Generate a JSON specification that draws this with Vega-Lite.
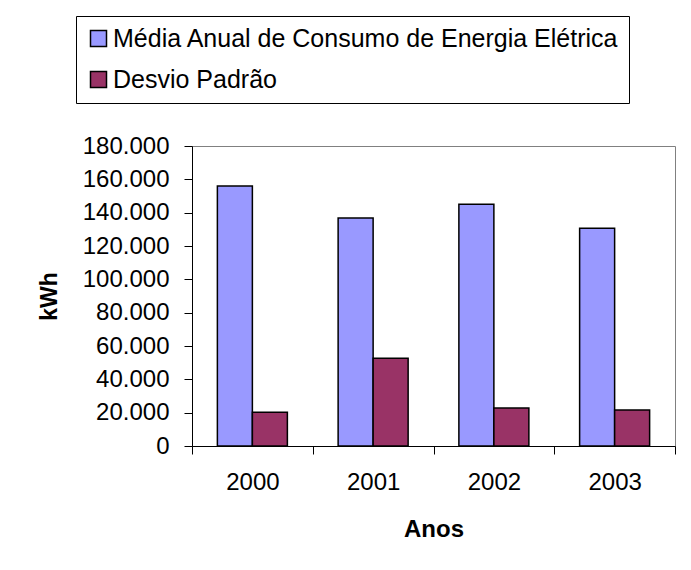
{
  "$schema": "https://vega.github.io/schema/vega-lite/v6.json",
  "width": 483,
  "height": 300,
  "autosize": "none",
  "padding": {"left": 192, "top": 146, "right": 16, "bottom": 124},
  "background": "white",
  "config": {
    "locale": {"number": {"decimal": ",", "thousands": ".", "grouping": [3], "currency": ["R$", ""]}},
    "view": {"stroke": "#808080", "strokeWidth": 1},
    "font": "Liberation Sans"
  },
  "data": {
    "values": [
      {"ano": "2000", "serie": "Média Anual de Consumo de Energia Elétrica", "valor": 156000},
      {"ano": "2000", "serie": "Desvio Padrão", "valor": 20200},
      {"ano": "2001", "serie": "Média Anual de Consumo de Energia Elétrica", "valor": 136800},
      {"ano": "2001", "serie": "Desvio Padrão", "valor": 52600},
      {"ano": "2002", "serie": "Média Anual de Consumo de Energia Elétrica", "valor": 145000},
      {"ano": "2002", "serie": "Desvio Padrão", "valor": 22800},
      {"ano": "2003", "serie": "Média Anual de Consumo de Energia Elétrica", "valor": 130600},
      {"ano": "2003", "serie": "Desvio Padrão", "valor": 21600}
    ]
  },
  "mark": {"type": "bar", "stroke": "black", "strokeWidth": 1.5},
  "encoding": {
    "x": {
      "field": "ano",
      "type": "nominal",
      "scale": {"paddingInner": 0, "paddingOuter": 0},
      "axis": {
        "title": "Anos",
        "labelAngle": 0,
        "tickBand": "extent",
        "tickSize": 8,
        "tickColor": "black",
        "domainColor": "black",
        "labelFontSize": 24,
        "labelColor": "black",
        "labelPadding": 16,
        "titleFontSize": 24,
        "titleFontWeight": "bold",
        "titleColor": "black",
        "titlePadding": 23
      }
    },
    "xOffset": {
      "field": "serie",
      "type": "nominal",
      "sort": ["Média Anual de Consumo de Energia Elétrica", "Desvio Padrão"],
      "scale": {"paddingInner": 0, "paddingOuter": 0.725}
    },
    "y": {
      "field": "valor",
      "type": "quantitative",
      "scale": {"domain": [0, 180000]},
      "axis": {
        "title": "kWh",
        "values": [0, 20000, 40000, 60000, 80000, 100000, 120000, 140000, 160000, 180000],
        "format": ",d",
        "grid": false,
        "tickSize": 8,
        "tickColor": "black",
        "domainColor": "black",
        "labelFontSize": 24,
        "labelColor": "black",
        "labelPadding": 15,
        "titleFontSize": 23,
        "titleFontWeight": "bold",
        "titleColor": "black",
        "titlePadding": 21
      }
    },
    "color": {
      "field": "serie",
      "type": "nominal",
      "scale": {
        "domain": ["Média Anual de Consumo de Energia Elétrica", "Desvio Padrão"],
        "range": ["#9999FF", "#993366"]
      },
      "legend": {
        "orient": "none",
        "legendX": -116,
        "legendY": -130,
        "title": null,
        "labelFontSize": 25,
        "labelColor": "black",
        "labelLimit": 700,
        "labelOffset": 2,
        "symbolType": "square",
        "symbolSize": 256,
        "symbolStrokeColor": "black",
        "symbolStrokeWidth": 1.5,
        "symbolOpacity": 1,
        "padding": 10,
        "rowPadding": 15,
        "strokeColor": "black",
        "fillColor": "white"
      }
    }
  }
}
